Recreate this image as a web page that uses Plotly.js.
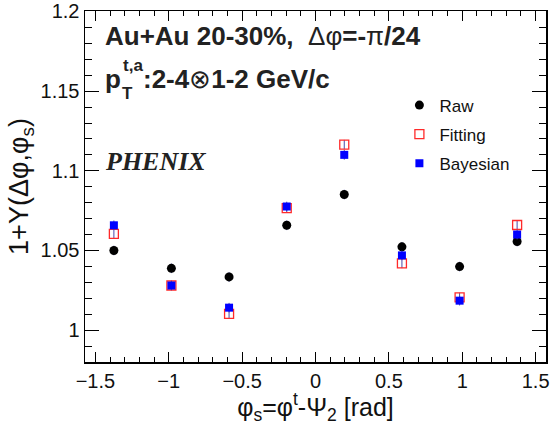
<!DOCTYPE html>
<html>
<head>
<meta charset="utf-8">
<script src="https://cdn.plot.ly/plotly-3.0.1.min.js"></script>
<style>
  html, body { margin: 0; padding: 0; background: #fff; }
  #chart { width: 551px; height: 425px; }
</style>
</head>
<body>
<div id="chart"></div>
<script>
// phi_s bin centres [rad]
var phiS = [-1.374, -0.982, -0.589, -0.196, 0.196, 0.589, 0.982, 1.374];

// 1+Y(dphi, phi_s) values
var rawY      = [1.0500, 1.0388, 1.0334, 1.0658, 1.0851, 1.0523, 1.0399, 1.0556];
var fittingY  = [1.0604, 1.0280, 1.0102, 1.0766, 1.1164, 1.0419, 1.0205, 1.0660];
var bayesianY = [1.0658, 1.0280, 1.0141, 1.0776, 1.1100, 1.0469, 1.0185, 1.0600];

// statistical errors (tiny)
var rawErr      = [0.003, 0.003, 0.003, 0.003, 0.003, 0.003, 0.003, 0.003];
var fittingErr  = [0.003, 0.003, 0.003, 0.003, 0.003, 0.003, 0.003, 0.003];
var bayesianErr = [0.003, 0.003, 0.003, 0.003, 0.003, 0.003, 0.003, 0.003];

var seriesNames = ["Raw", "Fitting", "Bayesian"];

var SANS = "Liberation Sans, Arial, Helvetica, sans-serif";
var SERIF = "Liberation Serif, Times New Roman, serif";
var errColor = "#4a4aa8";

var traces = [
  {
    x: phiS, y: rawY, name: seriesNames[0], type: "scatter", mode: "markers",
    legendgroup: "g1",
    marker: { symbol: "circle", size: 9, color: "#000000" },
    error_y: { type: "data", array: rawErr, visible: true, color: errColor, thickness: 1, width: 0 }
  },
  {
    x: phiS, y: fittingY, name: seriesNames[1], type: "scatter", mode: "markers",
    legendgroup: "g2",
    marker: { symbol: "square-open", size: 9, color: "#ff2a2a", line: { width: 1.3, color: "#ff2a2a" } },
    error_y: { type: "data", array: fittingErr, visible: true, color: errColor, thickness: 1, width: 0 }
  },
  {
    x: phiS, y: bayesianY, name: seriesNames[2], type: "scatter", mode: "markers",
    legendgroup: "g3",
    marker: { symbol: "square", size: 8, color: "#0000ff" },
    error_y: { type: "data", array: bayesianErr, visible: true, color: errColor, thickness: 1, width: 0 }
  }
];

var layout = {
  width: 551, height: 425,
  margin: { l: 85, r: 5, t: 11, b: 63 },
  paper_bgcolor: "#ffffff",
  plot_bgcolor: "#ffffff",
  font: { family: SANS, color: "#000000", size: 20 },
  showlegend: true,
  legend: {
    x: 0.682, y: 0.782, xanchor: "left", yanchor: "top",
    bgcolor: "rgba(0,0,0,0)",
    font: { family: SANS, size: 17, color: "#111" },
    tracegroupgap: 4,
    itemwidth: 30
  },
  xaxis: {
    range: [-Math.PI / 2, Math.PI / 2],
    tick0: 0, dtick: 0.5,
    ticks: "inside", ticklen: 10, tickwidth: 1, tickcolor: "#000",
    minor: { dtick: 0.1, ticks: "inside", ticklen: 5, tickwidth: 1, tickcolor: "#000", showgrid: false },
    showline: true, linecolor: "#000", linewidth: 1.5, mirror: "allticks",
    showgrid: false, zeroline: false,
    tickfont: { family: SANS, size: 20, color: "#111" },
    title: { text: "φ<sub>s</sub>=φ<sup>t</sup>-Ψ<sub>2</sub> [rad]", font: { family: SANS, size: 25, color: "#111" }, standoff: 0 }
  },
  yaxis: {
    range: [0.98, 1.2003],
    tick0: 1, dtick: 0.05,
    ticks: "inside", ticklen: 14, tickwidth: 1, tickcolor: "#000",
    minor: { dtick: 0.01, ticks: "inside", ticklen: 7, tickwidth: 1, tickcolor: "#000", showgrid: false },
    showline: true, linecolor: "#000", linewidth: 1.5, mirror: "allticks",
    showgrid: false, zeroline: false,
    tickfont: { family: SANS, size: 20, color: "#111" },
    ticklabeloverflow: "allow",
    title: { text: "1+Y(Δφ,φ<sub>s</sub>)", font: { family: SANS, size: 27, color: "#111" }, standoff: 4 }
  },
  annotations: [
    {
      xref: "paper", yref: "paper", x: 0.040, y: 0.929, xanchor: "left", yanchor: "middle",
      showarrow: false,
      text: "<b>Au+Au 20-30%,  </b>Δφ<b>=-</b>π<b>/24</b>",
      font: { family: SANS, size: 26, color: "#222" }
    },
    {
      xref: "paper", yref: "paper", x: 0.040, y: 0.806, xanchor: "left", yanchor: "middle",
      showarrow: false, text: "<b>p</b>",
      font: { family: SANS, size: 26, color: "#222" }
    },
    {
      xref: "paper", yref: "paper", x: 0.0775, y: 0.846, xanchor: "left", yanchor: "middle",
      showarrow: false, text: "<b>t,a</b>",
      font: { family: SANS, size: 17, color: "#222" }
    },
    {
      xref: "paper", yref: "paper", x: 0.0760, y: 0.764, xanchor: "left", yanchor: "middle",
      showarrow: false, text: "<b>T</b>",
      font: { family: SANS, size: 17, color: "#222" }
    },
    {
      xref: "paper", yref: "paper", x: 0.121, y: 0.806, xanchor: "left", yanchor: "middle",
      showarrow: false, text: "<b>:2-4</b>⊗<b>1-2 GeV/c</b>",
      font: { family: SANS, size: 26, color: "#222" }
    },
    {
      xref: "paper", yref: "paper", x: 0.040, y: 0.572, xanchor: "left", yanchor: "middle",
      showarrow: false, text: "<b><i>PHENIX</i></b>",
      font: { family: SERIF, size: 26, color: "#222" }
    }
  ]
};

Plotly.newPlot("chart", traces, layout, { displayModeBar: false, staticPlot: true });
</script>
</body>
</html>
